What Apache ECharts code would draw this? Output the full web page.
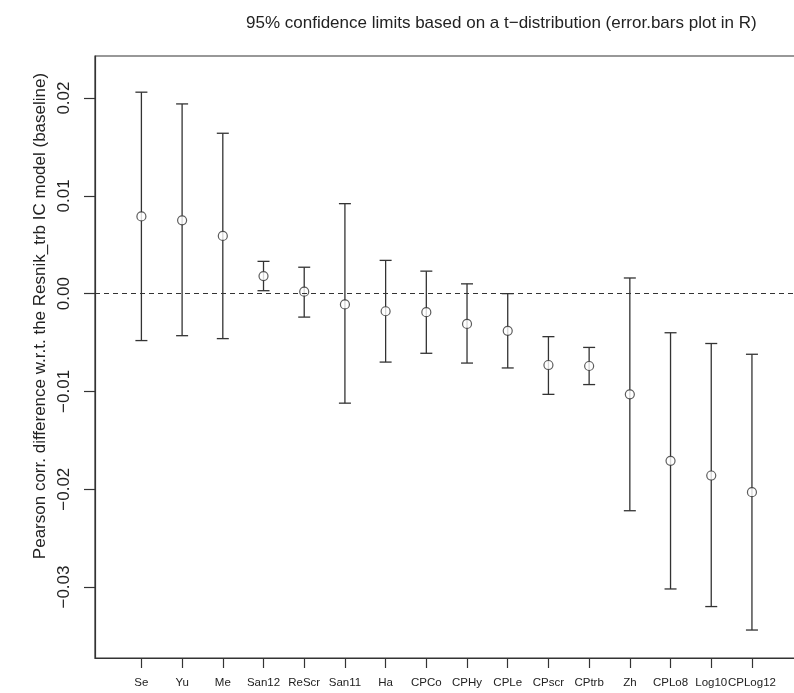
<!DOCTYPE html>
<html>
<head>
<meta charset="utf-8">
<script src="https://cdn.jsdelivr.net/npm/echarts@6/dist/echarts.min.js"></script>
<style>
  html, body { margin: 0; padding: 0; background: #fff; }
  #chart { width: 794px; height: 693px; }
</style>
</head>
<body>
<div id="chart"></div>
<script>
// models compared against the Resnik_trb baseline
const categories = ['Se', 'Yu', 'Me', 'San12', 'ReScr', 'San11', 'Ha', 'CPCo', 'CPHy', 'CPLe', 'CPscr', 'CPtrb', 'Zh', 'CPLo8', 'Log10', 'CPLog12']
// mean difference and 95% limits
const means = [0.0079, 0.0075, 0.0059, 0.0018, 0.0002, -0.0011, -0.0018, -0.0019, -0.0031, -0.0038, -0.0073, -0.0074, -0.0103, -0.0171, -0.0186, -0.0203]
const upper = [0.0206, 0.0194, 0.0164, 0.0033, 0.0027, 0.0092, 0.0034, 0.0023, 0.0010, 0.0000, -0.0044, -0.0055, 0.0016, -0.0040, -0.0051, -0.0062]
const lower = [-0.0048, -0.0043, -0.0046, 0.0003, -0.0024, -0.0112, -0.0070, -0.0061, -0.0071, -0.0076, -0.0103, -0.0093, -0.0222, -0.0302, -0.0320, -0.0344]
const yTicks = [-0.03, -0.02, -0.01, 0, 0.01, 0.02]

const FONT = '"Liberation Sans", Arial, sans-serif'
const INK = '#333'

const xPos = categories.map((c, i) => i + 1)
// tick list for the x axis (last one repeated, v6 seems to drop it otherwise)
const xTickVals = xPos.concat([xPos[xPos.length - 1]])

let chart = echarts.init(document.getElementById('chart'), null, { renderer: 'canvas' })

const option = {
  animation: false,
  backgroundColor: '#fff',
  grid: {
    left: 95,
    top: 56,
    width: 718,
    height: 602,
    outerBoundsMode: 'none',
    containLabel: false,
    show: true,
    borderColor: INK,
    borderWidth: 1.2,
    backgroundColor: 'transparent'
  },
  graphic: [
    {
      type: 'text',
      x: 246,
      y: 23,
      style: {
        text: '95% confidence limits based on a t\u2212distribution (error.bars plot in R)',
        font: '17px ' + FONT,
        fill: '#222',
        textAlign: 'left',
        textVerticalAlign: 'middle'
      }
    },
    {
      type: 'text',
      x: 40,
      y: 316,
      rotation: Math.PI / 2,
      style: {
        text: 'Pearson corr. difference w.r.t. the Resnik_trb IC model (baseline)',
        font: '17px ' + FONT,
        fill: '#222',
        textAlign: 'center',
        textVerticalAlign: 'middle'
      }
    }
  ],
  xAxis: {
    type: 'value',
    min: -0.14,
    max: 17.5,
    splitLine: { show: false },
    axisLine: { show: true, onZero: false, lineStyle: { color: INK, width: 1.2 } },
    axisTick: {
      show: true,
      inside: false,
      length: 10,
      customValues: xTickVals,
      lineStyle: { color: INK, width: 1.2 }
    },
    axisLabel: {
      show: true,
      customValues: xTickVals,
      hideOverlap: false,
      margin: 19,
      fontSize: 11.5,
      fontFamily: FONT,
      color: '#222',
      formatter: v => categories[Math.round(v) - 1] || ''
    }
  },
  yAxis: {
    type: 'value',
    min: -0.03726,
    max: 0.0243,
    splitLine: { show: false },
    axisLine: { show: true, onZero: false, lineStyle: { color: INK, width: 1.2 } },
    axisTick: {
      show: true,
      inside: false,
      length: 11,
      customValues: yTicks,
      lineStyle: { color: INK, width: 1.2 }
    },
    axisLabel: {
      show: true,
      customValues: yTicks,
      rotate: 90,
      margin: 22,
      fontSize: 17,
      fontFamily: FONT,
      color: '#222',
      formatter: v => (v < 0 ? '\u2212' : '') + Math.abs(v).toFixed(2)
    }
  },
  series: [
    {
      // error bars
      type: 'custom',
      data: xPos.map((x, i) => [x, lower[i], upper[i]]),
      renderItem(params, api) {
        const x = api.value(0)
        const lo = api.coord([x, api.value(1)])
        const hi = api.coord([x, api.value(2)])
        const half = 6
        const style = { stroke: INK, lineWidth: 1.3 }
        return {
          type: 'group',
          children: [
            { type: 'line', shape: { x1: lo[0], y1: lo[1], x2: hi[0], y2: hi[1] }, style },
            { type: 'line', shape: { x1: hi[0] - half, y1: hi[1], x2: hi[0] + half, y2: hi[1] }, style },
            { type: 'line', shape: { x1: lo[0] - half, y1: lo[1], x2: lo[0] + half, y2: lo[1] }, style }
          ]
        }
      },
      markLine: {
        silent: true,
        symbol: 'none',
        label: { show: false },
        lineStyle: { color: INK, width: 1.2, type: [5, 4] },
        data: [{ yAxis: 0 }]
      },
      z: 2
    },
    {
      // means
      type: 'scatter',
      data: xPos.map((x, i) => [x, means[i]]),
      symbol: 'circle',
      symbolSize: 9,
      itemStyle: { color: '#fff', borderColor: INK, borderWidth: 1.2 },
      z: 3
    }
  ]
}

chart.setOption(option)
</script>
</body>
</html>
